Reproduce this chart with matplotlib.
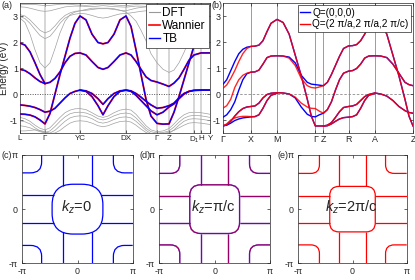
import numpy as np
import matplotlib
matplotlib.use("Agg")
import matplotlib.pyplot as plt
from matplotlib.path import Path
from matplotlib.patches import PathPatch, FancyBboxPatch
from matplotlib.lines import Line2D

plt.rcParams['font.family'] = ['Liberation Sans', 'DejaVu Sans']
plt.rcParams['mathtext.fontset'] = 'custom'
plt.rcParams['mathtext.rm'] = 'Liberation Sans'
plt.rcParams['mathtext.it'] = 'Liberation Sans:italic'
plt.rcParams['axes.unicode_minus'] = False
plt.rcParams['axes.linewidth'] = 0.5
plt.rcParams['axes.edgecolor'] = '#262626'

nan = np.nan

# ---------------- panel (a): bands along L-G-YC-DX-G-Z-D1-H-Y ----------------
a_ticks = [0, 25, 60, 106, 137, 149, 174, 181, 190]
a_labels = ['L', 'Γ', 'YC', 'DX', 'Γ', 'Z', 'D$_1$', 'H', 'Y']
a_k = [0, 5, 10, 15, 20, 25, 30, 35, 40, 45, 50, 55, 60, 66, 72, 78, 83, 88, 94,
       100, 106, 111, 116, 121, 126, 131, 137, 143, 149, 154, 159, 164, 169, 174,
       181, 186, 190]

# Wannier / TB bands (eV)
a_band1 = [-0.77, -0.78, -0.81, -0.88, -1.0, -1.15, -0.75, 0.0, 0.75, 1.45, 2.15, 2.72, 3.0,
           2.85, 2.3, 1.98, 1.93, 1.98, 2.3, 2.85, 3.0, 2.6, 1.7, 0.75, -0.2, -0.85, -1.13,
           -1.16, -1.15, -0.7, -0.1, 0.55, 1.2, 1.85, 2.75, nan, nan]
a_band2 = [0.95, 0.9, 0.78, 0.62, 0.48, 0.4, 0.45, 0.6, 0.85, 1.2, 1.45, 1.56, 1.58,
           1.5, 1.25, 1.02, 0.95, 1.02, 1.25, 1.5, 1.58, 1.5, 1.25, 0.95, 0.66, 0.52, 0.46,
           0.38, 0.29, 0.42, 0.62, 0.95, 1.3, 1.5, 1.58, 1.58, 1.58]
a_band3 = [-0.42, -0.44, -0.47, -0.52, -0.6, -0.7, -0.66, -0.55, -0.35, -0.15, 0.02, 0.1, 0.15,
           0.12, 0.02, -0.18, -0.4, -0.18, 0.02, 0.12, 0.15, 0.12, 0.02, -0.12, -0.28, -0.42, -0.55,
           -0.52, -0.45, -0.35, -0.15, 0.02, 0.1, 0.14, 0.15, 0.15, 0.15]
a_band4 = [nan, nan, nan, nan, nan, nan, nan, nan, nan, nan, nan, nan, 0.15,
           0.1, -0.1, -0.45, -0.8, -0.45, -0.1, 0.1, 0.15, 0.1, -0.05, -0.25, -0.45, -0.65, -0.8,
           -0.7, -0.5, -0.38, -0.18, 0.0, 0.1, 0.14, 0.15, 0.15, 0.15]
a_kx = [0, 5, 10, 15, 20, 25]
a_bandx = [1.96, 1.88, 1.62, 1.2, 0.75, 0.4]

# DFT bands (gray)
a_dft1 = [2.92, 2.75, 2.3, 1.7, 1.2, 1.0, 1.2, 1.75, 2.35, 2.8, 3.05, 3.15, 3.2,
          3.25, 3.3, 3.3, 3.3, 3.3, 3.28, 3.22, 3.15, 3.0, 2.8, 2.45, 2.05, 1.55, 1.2,
          0.95, 0.83, 0.92, 1.2, 1.6, 2.05, 2.5, 3.0, 3.2, 3.3]
a_dft2 = [2.98, 2.9, 2.72, 2.48, 2.25, 2.13, 2.22, 2.45, 2.72, 2.92, 3.02, 3.07, 3.1,
          3.08, 3.02, 2.95, 2.92, 2.95, 3.02, 3.08, 3.1, 3.12, 3.15, 3.18, 3.2, 3.22, 3.2,
          3.15, 3.1, 3.05, 3.0, 2.98, 2.95, 2.9, 2.92, 2.95, 3.0]
a_dft3 = [3.05, 3.0, 2.85, 2.65, 2.45, 2.35, 2.43, 2.62, 2.85, 3.02, 3.12, 3.18, 3.2,
          3.22, 3.25, 3.28, 3.28, 3.28, 3.25, 3.22, 3.2, 3.25, 3.3, 3.33, 3.35, 3.35, 3.33,
          3.3, 3.28, 3.25, 3.22, 3.2, 3.2, 3.22, 3.25, 3.28, 3.3]
a_dft4 = [3.43, 3.44, 3.45, 3.44, 3.42, 3.4, 3.41, 3.43, 3.45, 3.46, 3.45, 3.43, 3.42,
          3.41, 3.43, 3.45, 3.46, 3.45, 3.43, 3.41, 3.4, 3.42, 3.44, 3.46, 3.45, 3.43, 3.42,
          3.43, 3.44, 3.45, 3.44, 3.42, 3.4, 3.41, 3.43, 3.45, 3.46]
a_dft5 = [3.35, 3.34, 3.3, 3.25, 3.2, 3.18, 3.2, 3.25, 3.3, 3.35, 3.37, 3.38, 3.38,
          3.37, 3.36, 3.38, 3.4, 3.38, 3.36, 3.35, 3.34, 3.36, 3.38, 3.38, 3.37, 3.36, 3.35,
          3.35, 3.36, 3.37, 3.38, 3.37, 3.36, 3.35, 3.36, 3.37, 3.38]
a_dft6 = [-0.9, -0.95, -1.05, -1.2, -1.32, -1.38, -1.3, -1.1, -0.9, -0.72, -0.62, -0.57, -0.56,
          -0.6, -0.72, -0.85, -0.9, -0.85, -0.72, -0.62, -0.58, -0.62, -0.78, -1.0, -1.22, -1.38, -1.45,
          -1.42, -1.33, -1.15, -0.95, -0.8, -0.72, -0.7, -0.72, -0.75, -0.78]
a_dft7 = [-1.03, -1.07, -1.15, -1.3, -1.42, -1.48, -1.42, -1.25, -1.05, -0.88, -0.76, -0.71, -0.7,
          -0.73, -0.82, -0.95, -1.0, -0.95, -0.84, -0.76, -0.73, -0.77, -0.92, -1.12, -1.32, -1.45, -1.5,
          -1.48, -1.42, -1.27, -1.08, -0.93, -0.85, -0.82, -0.84, -0.87, -0.9]
a_dft8 = [-1.22, -1.25, -1.3, -1.38, -1.45, -1.5, -1.5, -1.4, -1.22, -1.05, -0.92, -0.86, -0.84,
          -0.86, -0.95, -1.08, -1.12, -1.08, -0.98, -0.9, -0.88, -0.92, -1.05, -1.22, -1.4, -1.52, -1.55,
          -1.55, -1.52, -1.38, -1.2, -1.05, -0.97, -0.95, -0.97, -1.0, -1.02]
a_dft9 = [-1.42, -1.42, -1.4, -1.38, -1.4, -1.45, -1.52, -1.5, -1.4, -1.25, -1.12, -1.05, -1.03,
          -1.05, -1.12, -1.22, -1.26, -1.22, -1.13, -1.06, -1.04, -1.08, -1.2, -1.35, -1.48, -1.55, -1.55,
          -1.52, -1.47, -1.4, -1.3, -1.2, -1.12, -1.1, -1.12, -1.15, -1.17]

# ---------------- panel (b): bands along G-X-M-G-Z-R-A-Z ----------------
b_ticks = [0, 28, 54, 92, 100, 125, 151, 189]
b_labels = ['Γ', 'X', 'M', 'Γ', 'Z', 'R', 'A', 'Z']
b_k = [0, 4, 8, 12, 16, 20, 24, 28, 32, 36, 40, 44, 48, 54, 60, 66, 72, 78, 84, 88, 92, 96,
       100, 104, 108, 112, 116, 120, 125, 129, 133, 137, 141, 145, 151, 157, 163, 169, 175,
       181, 185, 189]

# Q=(0,0,0)
b_q0_band1 = [0.36, 0.55, 0.9, 1.25, 1.55, 1.72, 1.8, 1.83, 1.84, 1.88, 2.05, 2.4, 2.72, 2.87,
              2.75, 2.3, 1.5, 0.7, -0.2, -0.85, -1.23, -1.23, -1.23, -1.2, -1.1, -0.9, -0.68, -0.52,
              -0.48, -0.46, -0.4, -0.25, -0.1, -0.02, 0.04, 0.0, -0.08, -0.25, -0.48, -0.64, -0.71, -0.74]
b_q0_band2 = [-0.9, -0.8, -0.6, -0.3, 0.15, 0.55, 0.78, 0.84, 0.85, 0.92, 1.15, 1.4, 1.46, 1.47,
              1.46, 1.42, 1.2, 0.72, 0.45, 0.38, 0.36, 0.34, 0.32, 0.45, 0.75, 1.1, 1.45, 1.75,
              1.85, 1.86, 1.9, 2.05, 2.3, 2.6, 2.87, 2.75, 2.3, 1.5, 0.7, -0.2, -0.85, -1.23]
b_q0_band3 = [-1.23, -1.18, -1.05, -0.85, -0.68, -0.56, -0.5, -0.48, -0.46, -0.35, -0.15, -0.02, 0.03, 0.05,
              0.04, 0.0, -0.15, -0.5, -0.78, -0.86, -0.88, -0.8, -0.74, -0.6, -0.3, 0.15, 0.55, 0.8,
              0.88, 0.9, 0.98, 1.15, 1.38, 1.46, 1.47, 1.46, 1.4, 1.15, 0.8, 0.45, 0.36, 0.32]
b_q0_band4 = [-1.23, -1.2, -1.12, -1.02, -0.96, -0.92, -0.9, -0.88, -0.87, -0.8, -0.55, -0.25, -0.05, 0.03,
              nan, nan, nan, nan, nan, nan, nan, nan, -1.23, -1.22, -1.15, -1.05, -0.96, -0.91,
              -0.89, -0.87, -0.8, -0.55, -0.25, -0.05, 0.02, nan, nan, nan, nan, nan, nan, nan]
# Q=(2pi/a,2pi/a,2pi/c)
b_qp_band1 = [0.21, 0.35, 0.6, 0.9, 1.25, 1.55, 1.75, 1.83, 1.84, 1.88, 2.05, 2.4, 2.72, 2.87,
              2.75, 2.3, 1.5, 0.7, -0.2, -0.85, -1.23, -1.23, -1.23, -1.2, -1.1, -0.9, -0.68, -0.52,
              -0.48, -0.46, -0.4, -0.25, -0.1, -0.02, 0.04, 0.0, -0.08, -0.25, -0.48, -0.64, -0.71, -0.74]
b_qp_band2 = [-0.55, -0.45, -0.2, 0.25, 0.55, 0.72, 0.8, 0.84, 0.85, 0.92, 1.15, 1.4, 1.46, 1.47,
              1.46, 1.38, 1.1, 0.6, 0.32, 0.25, 0.23, 0.27, 0.32, 0.45, 0.75, 1.1, 1.45, 1.75,
              1.85, 1.86, 1.9, 2.05, 2.3, 2.6, 2.87, 2.75, 2.3, 1.5, 0.7, -0.2, -0.85, -1.23]
b_qp_band3 = [-1.23, -1.18, -1.05, -0.85, -0.68, -0.56, -0.5, -0.48, -0.46, -0.35, -0.15, -0.02, 0.03, 0.05,
              0.04, 0.0, -0.12, -0.35, -0.5, -0.55, -0.56, -0.66, -0.74, -0.6, -0.3, 0.15, 0.55, 0.8,
              0.88, 0.9, 0.98, 1.15, 1.38, 1.46, 1.47, 1.46, 1.4, 1.15, 0.8, 0.45, 0.36, 0.32]
b_qp_band4 = [-1.23, -1.15, -1.0, -0.92, -0.88, -0.86, -0.86, -0.87, -0.87, -0.8, -0.55, -0.25, -0.05, 0.03,
              nan, nan, nan, nan, nan, nan, nan, nan, -1.23, -1.22, -1.15, -1.05, -0.96, -0.91,
              -0.89, -0.87, -0.8, -0.55, -0.25, -0.05, 0.02, nan, nan, nan, nan, nan, nan, nan]

# ---------------- panels (c)-(e): Fermi surfaces (units of pi) ----------------
fs_titles = ['$k_z$=0', '$k_z$=π/c', '$k_z$=2π/c']
fs_panel = ['(c)', '(d)', '(e)']
fs_pocket_half = [0.46, 0.45, 0.42]
fs_pocket_round = [0.38, 0.2, 0.17]
fs_spoke = [0.26, 0.25, 0.25]
fs_spoke_end = [0.42, 0.45, 0.42]
fs_corner_x = [0.65, 0.63, 0.61]
fs_corner_y = [0.67, 0.66, 0.66]
fs_corner_round = [0.2, 0.17, 0.16]

W, H = 415, 280


def box(x0, x1, y0, y1):
    return [x0 / W, 1 - y1 / H, (x1 - x0) / W, (y1 - y0) / H]


def style(ax):
    ax.tick_params(direction='in', length=2, width=0.5, labelsize=6.4, pad=1.5,
                   colors='#262626', top=True, right=True)


def draw_fs(ax, i, color, lw, alpha=1.0):
    h, r = fs_pocket_half[i], fs_pocket_round[i]
    ax.add_patch(FancyBboxPatch((-h, -h), 2 * h, 2 * h,
                                boxstyle="round,pad=0,rounding_size=%g" % r,
                                fill=False, ec=color, lw=lw, alpha=alpha))
    s, e = fs_spoke[i], fs_spoke_end[i]
    kw = dict(color=color, lw=lw, alpha=alpha, solid_capstyle='butt')
    for sg in (-1, 1):
        ax.plot([sg * s, sg * s], [e, 1], **kw)
        ax.plot([sg * s, sg * s], [-1, -e], **kw)
        ax.plot([e, 1], [sg * s, sg * s], **kw)
        ax.plot([-1, -e], [sg * s, sg * s], **kw)
    cx, cy, cr = fs_corner_x[i], fs_corner_y[i], fs_corner_round[i]
    codes = [Path.MOVETO, Path.LINETO, Path.CURVE3, Path.CURVE3, Path.LINETO]
    for sx in (-1, 1):
        for sy in (-1, 1):
            verts = [(sx * cx, sy * 1.0), (sx * cx, sy * (cy + cr)), (sx * cx, sy * cy),
                     (sx * (cx + cr), sy * cy), (sx * 1.0, sy * cy)]
            ax.add_patch(PathPatch(Path(verts, codes), fill=False, ec=color, lw=lw, alpha=alpha))


fig = plt.figure(figsize=(W / 100, H / 100), dpi=100)

# panel (a)
axa = fig.add_axes(box(20, 210, 3, 133))
for k in a_ticks[1:-1]:
    axa.axvline(k, color='#cccccc', lw=1.1, zorder=0)
axa.axhline(0, color='#555555', lw=0.7, ls=(0, (1, 1.5)), zorder=1)
for g in [a_dft1, a_dft2, a_dft3, a_dft4, a_dft5, a_dft6, a_dft7, a_dft8, a_dft9]:
    axa.plot(a_k, g, color='#a0a0a0', lw=0.5, zorder=2)
for col, lw in [('#ff0000', 1.3), ('#0000ff', 0.85)]:
    for b in [a_band1, a_band2, a_band3, a_band4]:
        axa.plot(a_k, b, color=col, lw=lw, zorder=3)
    axa.plot(a_kx, a_bandx, color=col, lw=lw, zorder=3)
axa.set_xlim(0, 190)
axa.set_ylim(-1.5, 3.5)
axa.set_xticks(a_ticks)
axa.set_xticklabels(a_labels)
axa.set_yticks([-1, 0, 1, 2, 3])
axa.set_ylabel('Energy (eV)', fontsize=7.2, labelpad=1, color='#262626')
style(axa)
axa.tick_params(axis='x', labelsize=5.8)
leg = axa.legend([Line2D([], [], color='#999999', lw=0.8), Line2D([], [], color='#ff0000', lw=1.2),
                  Line2D([], [], color='#0000ff', lw=1.0)], ['DFT', 'Wannier', 'TB'],
                 loc='upper right', fontsize=8.5, handlelength=0.9, handletextpad=0.2,
                 borderpad=0.25, labelspacing=0.1, borderaxespad=0.1, fancybox=False,
                 edgecolor='#262626', framealpha=1)
leg.get_frame().set_linewidth(0.5)
leg.set_zorder(10)

# panel (b)
axb = fig.add_axes(box(222.7, 413, 3, 133))
for k in b_ticks[1:-1]:
    axb.axvline(k, color='#8c8c8c', lw=0.6, zorder=0)
axb.axhline(0, color='#8c8c8c', lw=0.6, ls=(0, (3, 2)), zorder=1)
for b in [b_q0_band1, b_q0_band2, b_q0_band3, b_q0_band4]:
    axb.plot(b_k, b, color='#0000ff', lw=1.0, zorder=2)
for b in [b_qp_band1, b_qp_band2, b_qp_band3, b_qp_band4]:
    axb.plot(b_k, b, color='#ff0000', lw=1.0, alpha=0.85, zorder=3)
axb.set_xlim(0, 189)
axb.set_ylim(-1.5, 3.5)
axb.set_xticks(b_ticks)
axb.set_xticklabels(b_labels)
axb.set_yticks([-1, 0, 1, 2, 3])
style(axb)
leg = axb.legend([Line2D([], [], color='#0000ff', lw=1.0), Line2D([], [], color='#ff0000', lw=1.0)],
                 ['Q=(0,0,0)', 'Q=(2 π/a,2 π/a,2 π/c)'], loc='upper right', fontsize=7.2,
                 handlelength=1.0, handletextpad=0.2, borderpad=0.25, labelspacing=0.15,
                 borderaxespad=0.2, fancybox=False, edgecolor='#262626', framealpha=1)
leg.get_frame().set_linewidth(0.5)
leg.set_zorder(10)

# panels (c)-(e)
fs_boxes = [box(22.3, 132.7, 155, 263.3), box(159.3, 270, 155, 263.3), box(298.3, 406.7, 155, 263.3)]
fs_label_x = [1, 139, 277]
for i in range(3):
    ax = fig.add_axes(fs_boxes[i])
    if i == 0:
        draw_fs(ax, i, '#0000ff', 0.9)
    elif i == 1:
        draw_fs(ax, i, '#0000ff', 0.9)
        draw_fs(ax, i, '#ff0000', 0.9, alpha=0.6)
    else:
        draw_fs(ax, i, '#ff0000', 0.9)
    ax.set_xlim(-1, 1)
    ax.set_ylim(-1, 1)
    ax.set_xticks([-1, 0, 1])
    ax.set_xticklabels(['-π', '0', 'π'])
    ax.set_yticks([-1, 0, 1])
    ax.set_yticklabels(['-π', '0', 'π'])
    style(ax)
    ax.tick_params(axis='x', pad=2.5)
    ax.tick_params(axis='y', pad=3.2)
    ax.text(-0.02, 0.04, fs_titles[i], ha='center', va='center', fontsize=10.5, color='#262626')
    fig.text(fs_label_x[i] / W, 1 - 151 / H, fs_panel[i], ha='left', va='top', fontsize=6.5,
             color='#262626')

fig.text(1 / W, 1 - 1 / H, '(a)', ha='left', va='top', fontsize=6.5, color='#262626')
fig.text(211 / W, 1 - 1 / H, '(b)', ha='left', va='top', fontsize=6.5, color='#262626')

fig.savefig('out.png', dpi=100)
